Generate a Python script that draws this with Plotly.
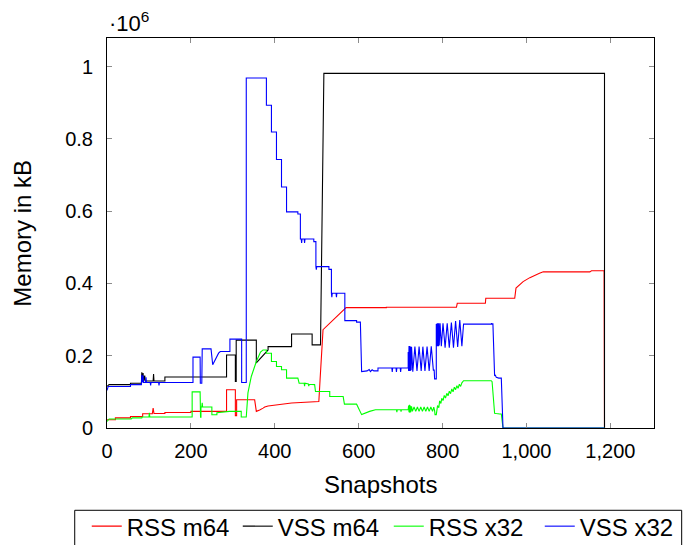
import plotly.graph_objects as go

# ---------------- data (memory in units of 10^6 kB) ----------------
snap_ticks = [0, 200, 400, 600, 800, 1000, 1200]
snap_tick_labels = ["0", "200", "400", "600", "800", "1,000", "1,200"]
mem_ticks = [0, 0.2, 0.4, 0.6, 0.8, 1.0]
mem_tick_labels = ["0", "0.2", "0.4", "0.6", "0.8", "1"]

series_names = ["RSS m64", "VSS m64", "RSS x32", "VSS x32"]
series_colors = ["#ff0000", "#000000", "#00ff00", "#0000ff"]

rss_m64 = [(0, 0.023), (20, 0.023), (20, 0.028), (56, 0.028), (56, 0.032), (85, 0.032),
           (85, 0.0395), (108, 0.0395), (110, 0.055), (112, 0.04), (138, 0.04), (138, 0.043),
           (200, 0.043), (200, 0.046), (285, 0.046), (285, 0.106), (306, 0.106), (306, 0.034),
           (309, 0.034), (309, 0.078), (352, 0.078), (356, 0.046), (364, 0.05), (372, 0.055),
           (376, 0.058), (384, 0.061), (440, 0.069), (505, 0.0735), (508, 0.135), (515, 0.272),
           (570, 0.333), (666, 0.333), (666, 0.334), (833, 0.334), (835, 0.345), (902, 0.345),
           (903, 0.359), (972, 0.359), (975, 0.387), (992, 0.405), (1008, 0.416), (1031, 0.428),
           (1040, 0.432), (1151, 0.432), (1155, 0.435), (1185, 0.435), (1186, 0.0)]

vss_m64 = [(0, 0.115), (5, 0.12), (56, 0.12), (56, 0.124), (82, 0.124), (83, 0.154), (84, 0.128),
           (86, 0.152), (87, 0.13), (90, 0.145), (91, 0.13), (110, 0.13), (111, 0.149), (112, 0.13),
           (138, 0.13), (138, 0.141), (285, 0.141), (285, 0.202), (306, 0.202), (306, 0.129),
           (308, 0.129), (308, 0.243), (356, 0.243), (356, 0.18), (384, 0.216), (384, 0.225),
           (440, 0.225), (440, 0.26), (489, 0.26), (489, 0.23), (509, 0.23), (517, 0.981),
           (1186, 0.981), (1186, 0.0)]

rss_x32 = [(0, 0.018), (5, 0.025), (58, 0.025), (60, 0.028), (83, 0.028), (84, 0.0304),
           (100, 0.0304), (101, 0.042), (102, 0.0304), (203, 0.0304), (203, 0.1), (222, 0.1),
           (223, 0.03), (224, 0.03), (224, 0.058), (226, 0.058), (227, 0.07), (228, 0.058),
           (250, 0.058), (250, 0.0367), (262, 0.0367), (262, 0.042), (292, 0.046), (320, 0.046),
           (320, 0.0304), (332, 0.0304), (336, 0.097), (344, 0.1425), (356, 0.184), (366, 0.21),
           (372, 0.216), (380, 0.216), (380, 0.207), (392, 0.207), (392, 0.184), (404, 0.184),
           (404, 0.17), (416, 0.17), (416, 0.161), (428, 0.161), (428, 0.138), (455, 0.138),
           (458, 0.124), (470, 0.124), (471, 0.116), (472, 0.124), (480, 0.122), (481, 0.116),
           (482, 0.121), (495, 0.12), (497, 0.101), (531, 0.101), (531, 0.087), (563, 0.087),
           (566, 0.066), (595, 0.066), (607, 0.037), (626, 0.046), (640, 0.0506), (690, 0.0506),
           (691, 0.044), (692, 0.0506), (700, 0.0506), (701, 0.045), (702, 0.0506), (718, 0.0506),
           (719, 0.062), (720, 0.044), (721, 0.064), (722, 0.042), (723, 0.062), (724, 0.044),
           (726, 0.06), (728, 0.046), (732, 0.058), (736, 0.046), (740, 0.058), (744, 0.046),
           (748, 0.058), (752, 0.046), (756, 0.058), (760, 0.046), (764, 0.058), (768, 0.046),
           (772, 0.058), (776, 0.046), (779, 0.058), (781, 0.048), (782, 0.037), (785, 0.037),
           (788, 0.062), (791, 0.056), (793, 0.075), (796, 0.068), (798, 0.082), (801, 0.076),
           (804, 0.09), (807, 0.083), (810, 0.096), (813, 0.089), (816, 0.102), (819, 0.095),
           (822, 0.108), (825, 0.1), (828, 0.113), (831, 0.106), (834, 0.117), (837, 0.11),
           (840, 0.121), (843, 0.115), (846, 0.125), (850, 0.1307), (916, 0.1307), (918, 0.128),
           (924, 0.041), (928, 0.04), (936, 0.0386), (940, 0.0386), (944, 0.0), (1186, 0.0)]

vss_x32 = [(0, 0.104), (3, 0.115), (56, 0.115), (56, 0.12), (82, 0.12), (83, 0.147), (84, 0.126),
           (86, 0.145), (87, 0.126), (92, 0.126), (93, 0.14), (94, 0.126), (103, 0.126),
           (104, 0.118), (105, 0.126), (123, 0.126), (124, 0.118), (125, 0.126), (205, 0.126),
           (205, 0.196), (222, 0.196), (222.5, 0.124), (226, 0.124), (227, 0.219), (248, 0.219),
           (252, 0.175), (266, 0.207), (270, 0.2116), (293, 0.2116), (293, 0.246), (321, 0.246),
           (321, 0.126), (332, 0.126), (332, 0.9685), (380, 0.9685), (380, 0.893), (392, 0.893),
           (392, 0.819), (404, 0.819), (404, 0.743), (416, 0.743), (416, 0.6666), (428, 0.6666),
           (428, 0.598), (455, 0.598), (455, 0.592), (461, 0.592), (461, 0.523), (463, 0.523),
           (464, 0.512), (465, 0.523), (470, 0.523), (471, 0.512), (472, 0.523), (493, 0.523),
           (493, 0.5155), (498, 0.5155), (498, 0.4464), (499, 0.438), (500, 0.4464), (529, 0.4464),
           (529, 0.439), (535, 0.439), (535, 0.373), (536, 0.362), (537, 0.373), (546, 0.373),
           (547, 0.362), (548, 0.373), (567, 0.373), (567, 0.297), (595, 0.297), (595, 0.293),
           (604, 0.293), (607, 0.156), (620, 0.158), (625, 0.162), (628, 0.156), (632, 0.161),
           (636, 0.158), (646, 0.158), (646, 0.166), (679, 0.166), (680, 0.155), (681, 0.166),
           (689, 0.166), (690, 0.155), (691, 0.166), (699, 0.166), (700, 0.155), (701, 0.166),
           (718, 0.166), (718, 0.21), (719, 0.158), (720, 0.227), (721, 0.158), (722, 0.227),
           (723, 0.158), (724, 0.225), (725, 0.16), (726, 0.225), (729, 0.156), (734, 0.225),
           (739, 0.158), (744, 0.225), (749, 0.158), (753, 0.225), (758, 0.158), (763, 0.225),
           (768, 0.158), (773, 0.226), (778, 0.16), (780, 0.16), (781, 0.136), (785, 0.136),
           (785, 0.288), (786, 0.226), (787, 0.29), (788, 0.226), (789, 0.29), (790, 0.226),
           (791, 0.29), (792, 0.228), (794, 0.29), (797, 0.226), (801, 0.29), (806, 0.222),
           (811, 0.29), (816, 0.222), (821, 0.292), (826, 0.222), (831, 0.296), (836, 0.224),
           (841, 0.299), (846, 0.226), (850, 0.2875), (916, 0.2875), (917, 0.29), (918, 0.2875),
           (920, 0.288), (924, 0.1445), (926, 0.146), (928, 0.14), (934, 0.138), (940, 0.138),
           (944, 0.0), (1186, 0.0)]

series_points = [rss_m64, vss_m64, rss_x32, vss_x32]

# ---------------- figure ----------------
FONT = "Liberation Sans"
fig = go.Figure()
for name, color, pts in zip(series_names, series_colors, series_points):
    xs = [p[0] for p in pts]
    ys = [p[1] for p in pts]
    fig.add_trace(go.Scatter(x=xs, y=ys, mode="lines", name=name,
                             line=dict(color=color, width=1.1, simplify=False)))

axis_common = dict(ticks="inside", ticklen=5, tickcolor="#8c8c8c", tickwidth=1,
                   showline=True, linecolor="black", linewidth=1, mirror="allticks",
                   showgrid=False, zeroline=False, tickfont=dict(size=20, color="black"))

fig.update_xaxes(range=[0, 1304], tickvals=snap_ticks, ticktext=snap_tick_labels,
                 ticklabelstandoff=5, **axis_common)
fig.update_yaxes(range=[0, 1.079], tickvals=mem_ticks, ticktext=mem_tick_labels,
                 ticklabelstandoff=9, **axis_common)

fig.update_layout(
    width=683, height=545, autosize=False,
    margin=dict(l=107, r=29, t=38, b=117, autoexpand=False),
    plot_bgcolor="white", paper_bgcolor="white",
    font=dict(family=FONT, size=20, color="black"),
    showlegend=True,
    legend=dict(orientation="h", x=-0.037, xanchor="left", y=-0.2527, yanchor="middle",
                font=dict(size=24), bgcolor="rgba(0,0,0,0)", borderwidth=0,
                entrywidth=106, entrywidthmode="pixels"),
    shapes=[dict(type="rect", xref="paper", yref="paper", x0=-0.059, x1=1.0506,
                 y0=-0.211, y1=-0.34, line=dict(color="black", width=1))],
    annotations=[
        dict(text="Snapshots", xref="paper", yref="paper", x=0.5, y=-0.145,
             xanchor="center", yanchor="middle", showarrow=False, font=dict(size=24)),
        dict(text="Memory in kB", xref="paper", yref="paper", x=-0.156, y=0.5,
             xanchor="center", yanchor="middle", textangle=-90, showarrow=False,
             font=dict(size=24)),
        dict(text="·10<sup>6</sup>", xref="paper", yref="paper", x=0.0, y=1.0,
             xanchor="left", yanchor="bottom", showarrow=False, font=dict(size=22)),
    ],
)

fig.write_html("out.html")
